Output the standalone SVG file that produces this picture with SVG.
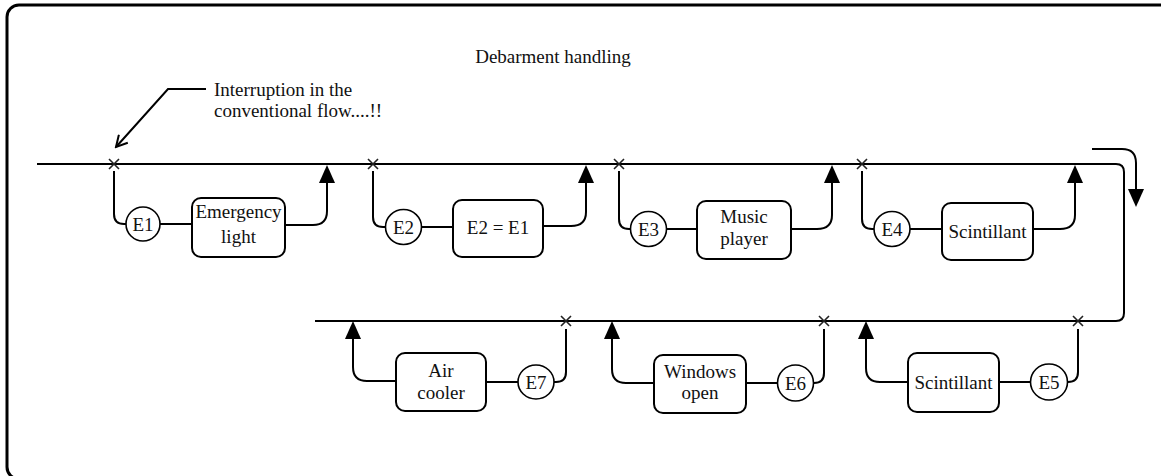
<svg xmlns="http://www.w3.org/2000/svg" width="1161" height="476" viewBox="0 0 1161 476" font-family="'Liberation Serif', 'Times New Roman', Tinos, 'DejaVu Serif', serif">
<style>
text{font-family:'Liberation Serif','Times New Roman',Tinos,'DejaVu Serif',serif;font-size:19px;fill:#111;text-anchor:middle}
.ln{fill:none;stroke:#000;stroke-width:2}
.box{fill:#fff;stroke:#000;stroke-width:2}
.ev{fill:#fff;stroke:#000;stroke-width:1.6}
.x{stroke:#222;stroke-width:1.6;fill:none}
</style>
<defs>
<marker id="ah" markerUnits="userSpaceOnUse" markerWidth="18" markerHeight="16" refX="0" refY="8" orient="auto" viewBox="0 0 18 16">
<path d="M0,0 L18,8 L0,16 Z" fill="#000"/>
</marker>
<marker id="oa" markerUnits="userSpaceOnUse" markerWidth="14" markerHeight="14" refX="12" refY="7" orient="auto" viewBox="0 0 14 14">
<path d="M1,1 L12,7 L1,13" fill="none" stroke="#000" stroke-width="2"/>
</marker>
</defs>
<rect x="7" y="5" width="1165" height="474" rx="12" fill="#fff" stroke="#000" stroke-width="3"/>
<text x="553" y="63">Debarment handling</text>
<g id="annotation">
<path class="ln" d="M206 89 H168 L116 147" stroke-width="1.6" marker-end="url(#oa)"/>
<text x="214" y="96" style="text-anchor:start">Interruption in the</text>
<text x="214" y="117" style="text-anchor:start">conventional flow....!!</text>
</g>
<g id="connectors">
<path class="ln" d="M37 164 H1116 Q1124 164 1124 172 V313 Q1124 321 1116 321 H315"/>
<path class="ln" d="M1092 149 H1122 Q1136 149 1136 163 V189" marker-end="url(#ah)"/>
<path class="x" d="M109 159 L119 169 M119 159 L109 169" stroke="#5a1010"/>
<path class="x" d="M368 159 L378 169 M378 159 L368 169"/>
<path class="x" d="M614 159 L624 169 M624 159 L614 169"/>
<path class="x" d="M857 159 L867 169 M867 159 L857 169"/>
<path class="x" d="M561 316 L571 326 M571 316 L561 326"/>
<path class="x" d="M819 316 L829 326 M829 316 L819 326"/>
<path class="x" d="M1073 316 L1083 326 M1083 316 L1073 326"/>
<path class="ln" d="M114 171 V214 Q114 224 124 224 H126"/>
<path class="ln" d="M160 224 H192"/>
<path class="ln" d="M285 225 H313 Q327 225 327 211 V183" marker-end="url(#ah)"/>
<path class="ln" d="M373 171 V217 Q373 227 383 227 H386"/>
<path class="ln" d="M421 227 H453"/>
<path class="ln" d="M543 226 H571 Q586 226 586 212 V183" marker-end="url(#ah)"/>
<path class="ln" d="M619 171 V219 Q619 229 629 229 H631"/>
<path class="ln" d="M666 229 H697"/>
<path class="ln" d="M791 229 H817 Q832 229 832 215 V183" marker-end="url(#ah)"/>
<path class="ln" d="M862 171 V219 Q862 229 872 229 H874"/>
<path class="ln" d="M910 229 H942"/>
<path class="ln" d="M1033 229 H1060 Q1075 229 1075 215 V183" marker-end="url(#ah)"/>
<path class="ln" d="M1078 329 V372 Q1078 382 1068 382"/>
<path class="ln" d="M1030 382 H999"/>
<path class="ln" d="M908 382 H880 Q866 382 866 368 V339" marker-end="url(#ah)"/>
<path class="ln" d="M824 329 V373 Q824 383 814 383"/>
<path class="ln" d="M777 383 H746"/>
<path class="ln" d="M654 383 H626 Q612 383 612 369 V339" marker-end="url(#ah)"/>
<path class="ln" d="M566 329 V372 Q566 382 556 382 H554"/>
<path class="ln" d="M518 382 H486"/>
<path class="ln" d="M396 381 H367 Q353 381 353 367 V339" marker-end="url(#ah)"/>
</g>
<g id="E1"><ellipse class="ev" cx="143" cy="224" rx="17" ry="17"/><text x="143" y="231">E1</text></g>
<g id="emergency-light"><rect class="box" x="192" y="198" width="93" height="59" rx="9"/><text x="238.5" y="218">Emergency</text><text x="238.5" y="243">light</text></g>
<g id="E2"><ellipse class="ev" cx="403.5" cy="227" rx="18" ry="17.5"/><text x="403.5" y="234">E2</text></g>
<g id="e2-eq-e1"><rect class="box" x="453" y="200" width="90" height="57" rx="9"/><text x="498" y="234">E2 = E1</text></g>
<g id="E3"><ellipse class="ev" cx="648.5" cy="229" rx="18" ry="17.5"/><text x="648.5" y="236">E3</text></g>
<g id="music-player"><rect class="box" x="697" y="201" width="94" height="58" rx="9"/><text x="744" y="223">Music</text><text x="744" y="245">player</text></g>
<g id="E4"><ellipse class="ev" cx="892" cy="229" rx="18" ry="17.5"/><text x="892" y="236">E4</text></g>
<g id="scintillant-top"><rect class="box" x="942" y="203" width="91" height="57" rx="9"/><text x="987.5" y="238">Scintillant</text></g>
<g id="E5"><ellipse class="ev" cx="1049" cy="382" rx="18.5" ry="18"/><text x="1049" y="389">E5</text></g>
<g id="scintillant-bottom"><rect class="box" x="908" y="353" width="91" height="59" rx="9"/><text x="953.5" y="389">Scintillant</text></g>
<g id="E6"><ellipse class="ev" cx="795.5" cy="383" rx="18" ry="18"/><text x="795.5" y="390">E6</text></g>
<g id="windows-open"><rect class="box" x="654" y="355" width="92" height="58" rx="9"/><text x="700" y="378">Windows</text><text x="700" y="399">open</text></g>
<g id="E7"><ellipse class="ev" cx="536" cy="382" rx="18" ry="17"/><text x="536" y="389">E7</text></g>
<g id="air-cooler"><rect class="box" x="396" y="353" width="90" height="58" rx="9"/><text x="441" y="377">Air</text><text x="441" y="399">cooler</text></g>
</svg>
